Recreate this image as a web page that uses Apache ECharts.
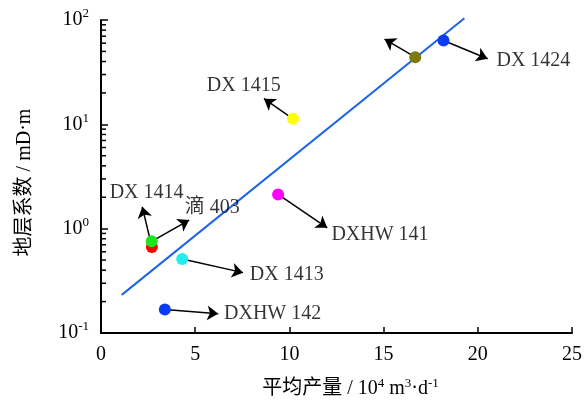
<!DOCTYPE html>
<html><head><meta charset="utf-8">
<script src="https://cdn.jsdelivr.net/npm/echarts@6/dist/echarts.min.js"></script>
<style>html,body{margin:0;padding:0;background:#fff}#c{width:585px;height:404px}</style>
</head><body><div id="c"></div>
<script>
// ---- data ----
const wellKeys = ['red', 'green', 'cyan', 'blue2', 'magenta', 'yellow', 'olive', 'blue'];
const avgProd = [2.70, 2.69, 4.31, 3.39, 9.40, 10.19, 16.68, 18.18];   // 10^4 m3/d
const formationKh = [0.668, 0.757, 0.511, 0.168, 2.13, 11.3, 44.0, 63.7]; // mD·m
const pointColors = ['#ff0000', '#1ee61e', '#22eeee', '#0a3cf5', '#ff00ff', '#ffff00', '#7d7a0f', '#0a3cf5'];

const fitX = [1.10, 19.29];
const fitY = [0.232, 103.8];

const arrowFrom = [0, 1, 2, 3, 4, 5, 6, 7];
const arrowTipX = [2.19, 4.68, 7.54, 6.22, 12.01, 8.65, 15.05, 20.52];
const arrowTipY = [1.62, 1.21, 0.379, 0.153, 1.02, 17.6, 65.6, 42.5];

const labelText = ['DX 1414', '滴 403', 'DX 1413', 'DXHW 142', 'DXHW 141', 'DX 1415', 'DX 1424'];
const labelX = [2.42, 4.45, 7.90, 6.53, 12.23, 7.58, 20.99];
const labelY = [2.21, 1.57, 0.361, 0.154, 0.881, 23.6, 40.3];
const labelAlign = ['center', 'left', 'left', 'left', 'left', 'center', 'left'];

const xMin = 0, xMax = 25, xInterval = 5;
const yMin = 0.1, yMax = 100;
const yMinorTicks = [0.2, 0.3, 0.4, 0.5, 0.6, 0.7, 0.8, 0.9, 2, 3, 4, 5, 6, 7, 8, 9, 20, 30, 40, 50, 60, 70, 80, 90];

// ---- chart ----
const FONT = '"Liberation Serif", "Times New Roman", "Noto Sans CJK SC", serif';
const INK = '#000';
const chart = echarts.init(document.getElementById('c'), null, {renderer: 'canvas'});

const supRich = {
  b: {fontSize: 20, fontFamily: FONT, color: INK},
  s: {fontSize: 13, fontFamily: FONT, color: INK, padding: [0, 0, 12, 0]}
};

const option = {
  animation: false,
  backgroundColor: '#fff',
  grid: {left: 101, right: 12, top: 20, bottom: 67, containLabel: false},
  xAxis: {
    type: 'value', min: xMin, max: xMax, interval: xInterval,
    splitLine: {show: false},
    axisLine: {lineStyle: {color: '#000', width: 2}},
    axisTick: {inside: true, length: 6, lineStyle: {color: '#000', width: 1.5}},
    axisLabel: {fontSize: 20, fontFamily: FONT, color: INK, margin: 12},
    name: '{t|平均产量 / 10}{s|4}{t| m}{s|3}{t|·d}{s|-1}',
    nameLocation: 'middle', nameGap: 44,
    nameTextStyle: {padding: [0, 0, 0, 28], rich: {
      t: {fontSize: 20, fontFamily: FONT, color: INK},
      s: {fontSize: 13, fontFamily: FONT, color: INK, padding: [0, 0, 11, 0]}
    }}
  },
  yAxis: {
    type: 'log', logBase: 10, min: yMin, max: yMax,
    splitLine: {show: false},
    axisLine: {lineStyle: {color: '#000', width: 2}},
    axisTick: {inside: true, length: 7, lineStyle: {color: '#000', width: 1.5}},
    axisLabel: {
      margin: 12,
      formatter: function (v) {
        const e = Math.round(Math.log10(v));
        return '{b|10}{s|' + e + '}';
      },
      rich: supRich
    },
    name: '地层系数 / mD·m',
    nameLocation: 'middle', nameGap: 66,
    nameTextStyle: {fontSize: 20, fontFamily: FONT, color: INK, padding: [0, 12, 0, 0]}
  },
  series: [
    {
      type: 'custom', z: 3, silent: true, clip: false,
      data: yMinorTicks.map(v => [xMin, v]),
      renderItem: function (params, api) {
        const p = api.coord([api.value(0), api.value(1)]);
        return {type: 'line', shape: {x1: p[0], y1: p[1], x2: p[0] + 5, y2: p[1]},
          style: {stroke: '#000', lineWidth: 1.5}};
      }
    },
    {
      type: 'line', z: 2, clip: false, symbol: 'none',
      data: fitX.map((x, i) => [x, fitY[i]]),
      lineStyle: {color: '#1e64e6', width: 2}
    },
    {
      type: 'lines', coordinateSystem: 'cartesian2d', z: 3, silent: true,
      symbol: ['none', 'arrow'], symbolSize: [7, 11],
      lineStyle: {color: '#000', width: 1.5, opacity: 1},
      data: arrowFrom.map((k, i) => ({coords: [[avgProd[k], formationKh[k]], [arrowTipX[i], arrowTipY[i]]]}))
    },
    {
      type: 'scatter', z: 5, symbolSize: 12,
      data: avgProd.map((x, i) => ({name: wellKeys[i], value: [x, formationKh[i]], itemStyle: {color: pointColors[i], opacity: 1}}))
    },
    {
      type: 'scatter', z: 6, symbolSize: 0, silent: true,
      data: labelText.map((t, i) => ({
        value: [labelX[i], labelY[i]],
        label: {show: true, formatter: t, position: [0, 0], align: labelAlign[i], verticalAlign: 'middle',
          padding: [3, 0, 0, 0], fontSize: 20, fontFamily: FONT, color: INK}
      }))
    }
  ]
};
chart.setOption(option);
</script>
</body></html>
